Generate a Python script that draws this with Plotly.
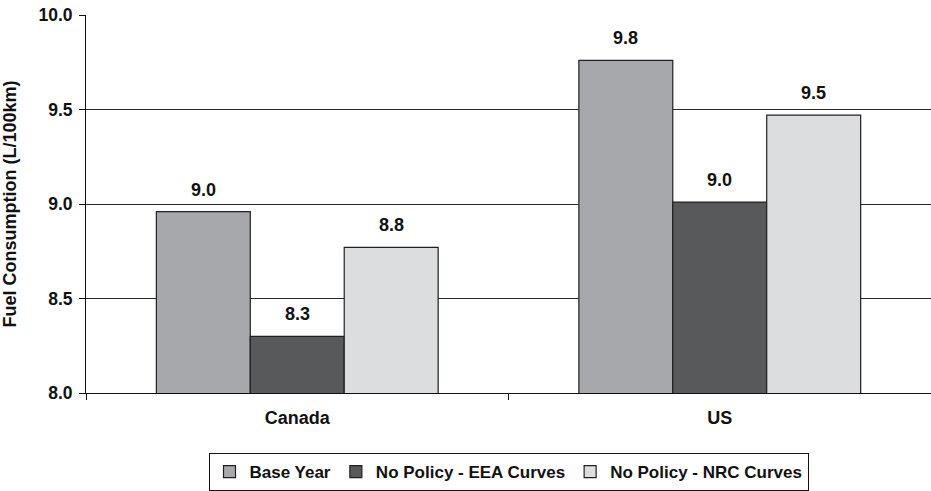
import plotly.graph_objects as go

# Average fuel consumption by region and scenario
regions = ["Canada", "US"]
series_names = ["Base Year", "No Policy - EEA Curves", "No Policy - NRC Curves"]
base_year = [8.96, 9.76]
eea_curves = [8.30, 9.01]
nrc_curves = [8.77, 9.47]
y_ticks = [8.0, 8.5, 9.0, 9.5, 10.0]

series_values = [base_year, eea_curves, nrc_curves]
fills = ["#a7a8ab", "#58595b", "#dcdddf"]

FONT = "Liberation Sans, Arial, sans-serif"
BAR_PX = 94  # rendered width of one bar within a group

fig = go.Figure()
for name, vals, col in zip(series_names, series_values, fills):
    fig.add_trace(go.Bar(
        name=name,
        x=regions,
        y=vals,
        marker=dict(color=col, line=dict(color="#231f20", width=1.2)),
    ))

# Value labels above each bar
annotations = []
for i, vals in enumerate(series_values):
    for reg, v in zip(regions, vals):
        annotations.append(dict(
            x=reg, y=v, xref="x", yref="y",
            text=f"<b>{v:.1f}</b>",
            showarrow=False,
            xshift=(i - 1) * BAR_PX,
            yshift=22,
            yanchor="middle",
            font=dict(family=FONT, size=18, color="#111111"),
        ))

fig.update_layout(
    width=931, height=491,
    margin=dict(l=86, r=0, t=15, b=96),
    paper_bgcolor="white",
    plot_bgcolor="white",
    barmode="group",
    bargap=0.333,
    bargroupgap=0,
    font=dict(family=FONT, size=16, color="#111111"),
    annotations=annotations,
    showlegend=True,
    legend=dict(
        orientation="h",
        x=0.5, xanchor="center",
        y=-0.16, yanchor="top",
        bordercolor="#111111", borderwidth=1,
        bgcolor="white",
        font=dict(family=FONT, size=17, color="#111111", weight="bold"),
        itemclick=False,
    ),
)

fig.update_xaxes(
    showline=True, linecolor="#111111", linewidth=1,
    ticks="outside", tickson="boundaries", ticklen=6, tickcolor="#111111",
    ticklabelstandoff=8,
    tickfont=dict(family=FONT, size=18, color="#111111", weight="bold"),
    showgrid=False,
)

fig.update_yaxes(
    range=[8, 10],
    tickvals=y_ticks,
    tickformat=".1f",
    showline=True, linecolor="#111111", linewidth=1,
    ticks="outside", ticklen=6, tickcolor="#111111",
    ticklabelstandoff=3,
    showgrid=True, gridcolor="#2a2a2a", gridwidth=1,
    zeroline=False,
    tickfont=dict(family=FONT, size=17.5, color="#111111", weight="bold"),
    title=dict(
        text="Fuel Consumption (L/100km)",
        font=dict(family=FONT, size=18, color="#111111", weight="bold"),
        standoff=19,
    ),
)

fig.write_html("out.html")
